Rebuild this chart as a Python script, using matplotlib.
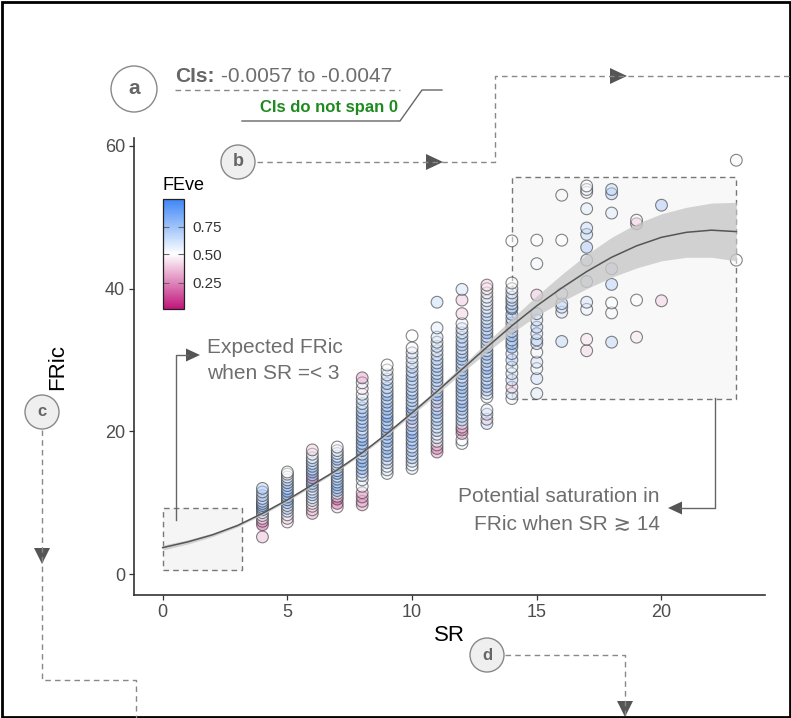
import matplotlib
matplotlib.use("Agg")

import matplotlib.pyplot as plt
import numpy as np
from matplotlib.colors import LinearSegmentedColormap, TwoSlopeNorm
from matplotlib.patches import Rectangle, Circle, Polygon
from matplotlib.cm import ScalarMappable

plt.rcParams['font.family'] = ['Liberation Sans', 'DejaVu Sans']

# ---- data ----
sr_levels = [4, 5, 6, 7, 8, 9, 10, 11, 12, 13, 14, 15, 16, 17, 18, 19, 20, 23]

fric_by_sr = [
    [5.2, 6.9, 7.4, 7.8, 8.2, 8.6, 9.0, 9.3, 9.6, 9.9, 10.2, 10.6, 11.0, 11.5, 12.0],
    [7.3, 7.8, 8.3, 8.8, 9.2, 9.6, 10.0, 10.4, 10.8, 11.2, 11.6, 12.0, 12.4, 12.8, 13.2, 13.6, 14.0, 14.3],
    [8.5, 9.0, 9.5, 9.9, 10.3, 10.7, 11.1, 11.5, 11.9, 12.3, 12.7, 13.1, 13.5, 13.9, 14.3, 14.7, 15.1, 15.5,
     15.9, 16.3, 16.8, 17.4],
    [9.4, 9.9, 10.5, 10.9, 11.3, 11.7, 12.1, 12.5, 12.9, 13.3, 13.7, 14.1, 14.5, 14.9, 15.3, 15.7, 16.1, 16.5,
     16.9, 17.3, 17.8],
    [9.7, 10.2, 10.8, 11.4, 12.3, 13.2, 13.8, 14.3, 14.8, 15.3, 15.8, 16.3, 16.8, 17.3, 17.8, 18.3, 18.8, 19.3,
     19.8, 20.3, 20.8, 21.3, 21.8, 22.3, 22.8, 23.3, 23.9, 24.5, 25.2, 26.0, 26.8, 27.5],
    [14.1, 14.6, 15.1, 15.6, 16.1, 16.6, 17.1, 17.6, 18.1, 18.6, 19.1, 19.6, 20.1, 20.6, 21.1, 21.6, 22.1, 22.6,
     23.1, 23.6, 24.1, 24.6, 25.1, 25.6, 26.1, 26.7, 27.3, 27.9, 28.6, 29.3],
    [14.8, 15.3, 15.8, 16.3, 16.8, 17.3, 17.8, 18.3, 18.8, 19.3, 19.8, 20.3, 20.8, 21.3, 21.8, 22.3, 22.8, 23.3,
     23.8, 24.3, 24.8, 25.3, 25.8, 26.3, 26.8, 27.3, 27.8, 28.4, 29.0, 29.6, 30.3, 31.0, 31.7, 33.4],
    [17.1, 17.6, 18.1, 18.6, 19.1, 19.6, 20.1, 20.6, 21.1, 21.6, 22.1, 22.6, 23.1, 23.6, 24.1, 24.6, 25.1, 25.6,
     26.1, 26.6, 27.1, 27.6, 28.1, 28.6, 29.1, 29.6, 30.1, 30.7, 31.3, 31.9, 32.5, 33.2, 34.5, 38.1],
    [18.3, 18.8, 19.7, 20.2, 20.6, 21.1, 21.6, 22.1, 22.6, 23.1, 23.6, 24.1, 24.6, 25.1, 25.6, 26.1, 26.6, 27.1,
     27.6, 28.1, 28.6, 29.1, 29.6, 30.1, 30.6, 31.1, 31.6, 32.1, 32.6, 33.2, 33.8, 34.4, 35.1, 36.5, 38.4, 39.9],
    [21.1, 21.7, 22.4, 23.0, 24.8, 25.3, 25.8, 26.3, 26.8, 27.3, 27.8, 28.3, 28.8, 29.3, 29.8, 30.3, 30.8, 31.3,
     31.8, 32.3, 32.8, 33.3, 33.8, 34.3, 34.8, 35.3, 35.8, 36.3, 36.8, 37.3, 37.8, 38.3, 38.8, 39.4, 40.0, 40.5],
    [24.6, 25.3, 26.2, 27.2, 28.1, 29.0, 30.0, 30.9, 31.8, 32.3, 32.8, 33.4, 34.0, 34.6, 35.2, 35.8, 36.4, 37.2,
     37.4, 37.9, 38.4, 38.8, 39.4, 40.0, 40.8, 46.7],
    [25.3, 27.4, 28.8, 29.7, 31.1, 32.3, 32.8, 33.7, 34.6, 35.6, 36.5, 39.1, 43.5, 46.8],
    [32.6, 36.7, 37.4, 37.9, 39.3, 46.8, 53.1],
    [31.3, 32.9, 37.1, 38.1, 41.0, 44.0, 45.8, 47.6, 48.5, 51.2, 53.5, 53.9, 54.4],
    [32.5, 36.6, 38.0, 40.6, 42.8, 50.6, 53.3, 53.9],
    [33.2, 38.4, 49.1, 49.6],
    [38.3, 51.7],
    [44.0, 58.0],
]

feve_by_sr = [
    [0.35, 0.12, 0.30, 0.55, 0.45, 0.62, 0.80, 0.70, 0.85, 0.60, 0.75, 0.55, 0.72, 0.65, 0.68],
    [0.45, 0.40, 0.55, 0.60, 0.70, 0.58, 0.75, 0.82, 0.66, 0.78, 0.85, 0.62, 0.70, 0.74, 0.60, 0.55, 0.52, 0.50],
    [0.32, 0.38, 0.42, 0.50, 0.65, 0.55, 0.72, 0.60, 0.48, 0.80, 0.68, 0.78, 0.25, 0.70, 0.84, 0.62, 0.75, 0.58,
     0.66, 0.55, 0.52, 0.40],
    [0.42, 0.20, 0.15, 0.55, 0.60, 0.78, 0.70, 0.82, 0.65, 0.75, 0.58, 0.86, 0.62, 0.72, 0.55, 0.68, 0.80, 0.50,
     0.60, 0.58, 0.52],
    [0.30, 0.32, 0.28, 0.35, 0.52, 0.58, 0.62, 0.70, 0.80, 0.66, 0.88, 0.72, 0.60, 0.84, 0.75, 0.68, 0.90, 0.62,
     0.78, 0.55, 0.82, 0.70, 0.64, 0.86, 0.60, 0.72, 0.58, 0.66, 0.50, 0.45, 0.55, 0.30],
    [0.55, 0.60, 0.50, 0.68, 0.62, 0.75, 0.70, 0.82, 0.58, 0.88, 0.66, 0.78, 0.72, 0.85, 0.60, 0.76, 0.90, 0.64,
     0.80, 0.70, 0.74, 0.62, 0.84, 0.58, 0.68, 0.72, 0.56, 0.62, 0.54, 0.50],
    [0.58, 0.52, 0.64, 0.70, 0.60, 0.78, 0.55, 0.84, 0.66, 0.72, 0.88, 0.62, 0.76, 0.42, 0.80, 0.68, 0.74, 0.86,
     0.60, 0.70, 0.64, 0.82, 0.56, 0.72, 0.66, 0.62, 0.78, 0.58, 0.70, 0.54, 0.62, 0.56, 0.52, 0.50],
    [0.30, 0.25, 0.38, 0.55, 0.62, 0.48, 0.70, 0.58, 0.66, 0.74, 0.60, 0.80, 0.68, 0.40, 0.76, 0.62, 0.84, 0.70,
     0.58, 0.72, 0.64, 0.78, 0.60, 0.68, 0.74, 0.56, 0.70, 0.62, 0.58, 0.66, 0.55, 0.60, 0.58, 0.65],
    [0.55, 0.50, 0.30, 0.25, 0.35, 0.58, 0.66, 0.72, 0.60, 0.78, 0.68, 0.84, 0.62, 0.74, 0.70, 0.80, 0.64, 0.76,
     0.58, 0.86, 0.68, 0.72, 0.62, 0.78, 0.66, 0.70, 0.60, 0.74, 0.64, 0.68, 0.58, 0.62, 0.55, 0.40, 0.38, 0.62],
    [0.66, 0.40, 0.62, 0.58, 0.55, 0.62, 0.70, 0.66, 0.80, 0.58, 0.74, 0.64, 0.84, 0.60, 0.72, 0.68, 0.76, 0.62,
     0.82, 0.56, 0.70, 0.64, 0.78, 0.60, 0.72, 0.66, 0.58, 0.68, 0.62, 0.55, 0.60, 0.52, 0.58, 0.45, 0.50, 0.40],
    [0.52, 0.62, 0.40, 0.66, 0.60, 0.58, 0.70, 0.64, 0.78, 0.72, 0.68, 0.80, 0.62, 0.74, 0.66, 0.60, 0.70, 0.68,
     0.72, 0.64, 0.58, 0.62, 0.56, 0.54, 0.50, 0.50],
    [0.58, 0.62, 0.55, 0.60, 0.52, 0.64, 0.66, 0.62, 0.68, 0.60, 0.62, 0.38, 0.52, 0.50],
    [0.66, 0.60, 0.62, 0.64, 0.55, 0.50, 0.48],
    [0.42, 0.44, 0.55, 0.60, 0.62, 0.64, 0.72, 0.66, 0.64, 0.58, 0.52, 0.55, 0.50],
    [0.66, 0.52, 0.50, 0.68, 0.60, 0.58, 0.68, 0.66],
    [0.45, 0.50, 0.32, 0.48],
    [0.40, 0.72],
    [0.50, 0.47],
]

# fitted curve and its confidence band
fit_sr = [0, 1, 2, 3, 4, 5, 6, 7, 8, 9, 10, 11, 12, 13, 14, 15, 16, 17, 18, 19, 20, 21, 22, 23]
fit_fric = [3.7, 4.5, 5.5, 6.8, 8.5, 10.4, 12.5, 14.6, 17.0, 19.7, 22.6, 25.6, 28.7, 31.8, 34.8, 37.6,
            40.1, 42.4, 44.4, 46.0, 47.2, 47.9, 48.2, 48.0]
fit_lower = [3.35, 4.2, 5.25, 6.6, 8.3, 10.2, 12.3, 14.4, 16.8, 19.45, 22.3, 25.2, 28.2, 31.1, 33.8, 36.2,
             38.2, 40.0, 41.6, 42.9, 43.9, 44.4, 44.4, 43.9]
fit_upper = [4.05, 4.8, 5.75, 7.0, 8.7, 10.6, 12.7, 14.8, 17.2, 19.95, 22.9, 26.0, 29.2, 32.5, 35.8, 39.0,
             42.0, 44.8, 47.2, 49.1, 50.5, 51.4, 52.0, 52.1]

# ---- figure ----
W, H = 791, 718
fig = plt.figure(figsize=(W / 100, H / 100), dpi=100)

def px_rect(x0, y0, x1, y1):
    return [x0 / W, 1 - y1 / H, (x1 - x0) / W, (y1 - y0) / H]

ax = fig.add_axes(px_rect(134, 138, 765, 595))
ax.set_xlim(-1.15, 24.15)
ax.set_ylim(-2.94, 61.12)

cmap = LinearSegmentedColormap.from_list("feve", ["#c0157a", "#ffffff", "#3d86f5"])
norm = TwoSlopeNorm(vmin=0.02, vcenter=0.5, vmax=1.0)

# highlight boxes
ax.add_patch(Rectangle((0, 0.5), 3.2, 8.7, facecolor="#f5f5f5", edgecolor="#777777",
                       linestyle=(0, (4, 3)), linewidth=1, zorder=0.5))
ax.add_patch(Rectangle((14, 24.6), 9, 31.0, facecolor="#f8f8f8", edgecolor="#777777",
                       linestyle=(0, (4, 3)), linewidth=1, zorder=0.5))

for s, fr, fe in zip(sr_levels, fric_by_sr, feve_by_sr):
    fc = cmap(norm(np.array(fe)))
    fc[:, 3] = 0.48
    ax.scatter([s] * len(fr), fr, s=72, c=fc, edgecolors=(0.2, 0.2, 0.2, 0.6),
               linewidths=0.8, zorder=2)

ax.fill_between(fit_sr, fit_lower, fit_upper, color="#c8c8c8", alpha=0.8, linewidth=0, zorder=3)
ax.plot(fit_sr, fit_fric, color="#555555", linewidth=1.1, zorder=4)

for side in ["top", "right"]:
    ax.spines[side].set_visible(False)
for side in ["left", "bottom"]:
    ax.spines[side].set_color("#333333")
    ax.spines[side].set_linewidth(1.2)
ax.set_xticks([0, 5, 10, 15, 20])
ax.set_yticks([0, 20, 40, 60])
ax.tick_params(length=3.5, width=0.9, color="#333333", labelcolor="#4d4d4d", labelsize=13, pad=3)
ax.set_xlabel("SR", fontsize=16, color="black", labelpad=3)
ax.set_ylabel("FRic", fontsize=16, color="black", labelpad=26)

# colour bar inside panel
cax = fig.add_axes(px_rect(163, 199, 184, 309))
cb = fig.colorbar(ScalarMappable(norm=norm, cmap=cmap), cax=cax)
cb.set_ticks([0.25, 0.5, 0.75])
cb.set_ticklabels(["0.25", "0.50", "0.75"])
cb.outline.set_edgecolor("#222222")
cb.outline.set_linewidth(0.9)
cax.tick_params(direction="in", length=4, width=0.8, color="#666666", labelsize=11,
                labelcolor="#333333", left=True, right=True, pad=6)

# ---- overlay in pixel coordinates for annotations ----
ov = fig.add_axes([0, 0, 1, 1], facecolor="none")
ov.set_xlim(0, W)
ov.set_ylim(H, 0)
ov.axis("off")

grey = "#6e6e6e"
dash = dict(color="#888888", linewidth=1, linestyle=(0, (4, 3)))

def tri(tip, direction, size=16, width=16):
    x, y = tip
    if direction == "right":
        pts = [(x, y), (x - size, y - width / 2), (x - size, y + width / 2)]
    elif direction == "left":
        pts = [(x, y), (x + size, y - width / 2), (x + size, y + width / 2)]
    else:
        pts = [(x, y), (x - width / 2, y - size), (x + width / 2, y - size)]
    ov.add_patch(Polygon(pts, closed=True, facecolor="#555555", edgecolor="none"))

def badge(x, y, r, letter, fill, fs):
    ov.add_patch(Circle((x, y), r, facecolor=fill, edgecolor="#888888", linewidth=1))
    ov.text(x, y, letter, ha="center", va="center", fontsize=fs, fontweight="bold", color="#666666")

fig.text(163 / W, 1 - 190 / H, "FEve", fontsize=13, color="black")

# a
badge(134, 89, 23, "a", "white", 15)
ov.text(175, 82, "CIs:", fontsize=15, fontweight="bold", color="#666666", va="baseline")
ov.text(221, 82, "-0.0057 to -0.0047", fontsize=15, color="#6e6e6e", va="baseline")
ov.plot([175, 400], [90, 90], **dash)
ov.text(398, 112, "CIs do not span 0", fontsize=12, fontweight="bold", color="#1f8b1f",
        ha="right", va="baseline")
ov.plot([242, 400, 422, 442], [121, 121, 90, 90], color="#666666", linewidth=1)

# b
badge(238, 162, 17, "b", "#efefef", 13)
ov.plot([257, 495, 495, 790], [162, 162, 76, 76], **dash)
tri((443, 162), "right", 17, 16)
tri((627, 76), "right", 17, 16)

# c
badge(42, 412, 17, "c", "#efefef", 12)
ov.plot([42, 42, 136, 136], [430, 680, 680, 718], **dash)
tri((42, 564), "down", 16, 16)

# d
badge(487, 655, 17, "d", "#efefef", 12)
ov.plot([505, 625, 625], [655, 655, 718], **dash)
tri((625, 717), "down", 16, 16)

# expected FRic annotation
ov.plot([176, 176, 188], [520, 355, 355], color="#666666", linewidth=1)
tri((200, 355), "right", 14, 13)
ov.text(207, 353, "Expected FRic", fontsize=15, color=grey, va="baseline")
ov.text(207, 379, "when SR =< 3", fontsize=15, color=grey, va="baseline")

# saturation annotation
ov.plot([715, 715, 680], [398, 508, 508], color="#666666", linewidth=1)
tri((668, 508), "left", 14, 13)
ov.text(660, 502, "Potential saturation in", fontsize=15, color=grey, ha="right", va="baseline")
ov.text(660, 530, "FRic when SR \u2273 14", fontsize=15, color=grey, ha="right", va="baseline")

# outer frame
ov.add_patch(Rectangle((1.5, 1.5), W - 3, H - 3, facecolor="none", edgecolor="black", linewidth=2))

fig.savefig("out.png", dpi=100)
